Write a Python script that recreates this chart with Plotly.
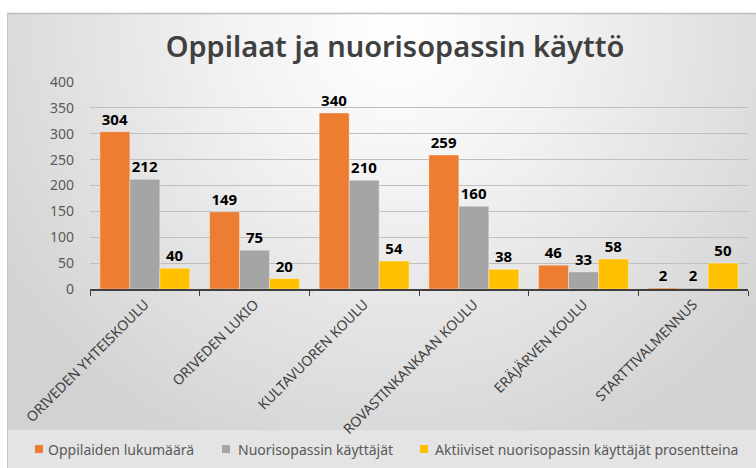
import base64
import plotly.graph_objects as go

categories = ["ORIVEDEN YHTEISKOULU", "ORIVEDEN LUKIO", "KULTAVUOREN KOULU",
              "ROVASTINKANKAAN KOULU", "ERÄJÄRVEN KOULU", "STARTTIVALMENNUS"]
oppilaat = [304, 149, 340, 259, 46, 2]
kayttajat = [212, 75, 210, 160, 33, 2]
aktiiviset = [40, 20, 54, 38, 58, 50]
series_names = ["Oppilaiden lukumäärä", "Nuorisopassin käyttäjät",
                "Aktiiviset nuorisopassin käyttäjät prosentteina"]
y_ticks = [0, 50, 100, 150, 200, 250, 300, 350, 400]

W, H = 756, 468
L, R, T, B = 90, 8, 82, 179
pw, ph = W - L - R, H - T - B

def px_x(p):
    return (p - L) / pw

def px_y(p):
    return (H - B - p) / ph

svg = f'''<svg xmlns="http://www.w3.org/2000/svg" width="{W}" height="{H}" viewBox="0 0 {W} {H}" preserveAspectRatio="none">
<defs>
<radialGradient id="g" gradientUnits="userSpaceOnUse" cx="395" cy="30" r="470">
<stop offset="0" stop-color="#ffffff"/>
<stop offset="0.35" stop-color="#f2f2f2"/>
<stop offset="1" stop-color="#d2d2d2"/>
</radialGradient>
</defs>
<rect x="0" y="0" width="{W}" height="{H}" fill="#ffffff"/>
<rect x="7" y="13" width="{W-7}" height="{H-13}" fill="url(#g)"/>
<rect x="7" y="430" width="{W-7}" height="{H-430}" fill="#e4e4e4"/>
<line x1="7" y1="13.5" x2="{W}" y2="13.5" stroke="#bdbdbd" stroke-width="1.5"/>
<line x1="7.5" y1="13" x2="7.5" y2="{H}" stroke="#c8c8c8" stroke-width="1"/>
</svg>'''
src = "data:image/svg+xml;base64," + base64.b64encode(svg.encode()).decode()

colors = ["#ED7D31", "#A5A5A5", "#FFC000"]
fig = go.Figure()
for name, vals, col in zip(series_names, [oppilaat, kayttajat, aktiiviset], colors):
    fig.add_trace(go.Bar(
        x=categories, y=vals, name=name,
        marker=dict(color=col, line=dict(color="rgba(255,255,255,0.35)", width=1)),
        text=[str(v) for v in vals], textposition="outside", cliponaxis=False,
        textfont=dict(family="Noto Sans", size=15, color="#000000", weight="bold"),
        showlegend=False,
    ))

# manual legend (positions in pixels)
legend_sq_x = [35, 222, 420]
legend_txt_x = [46, 236, 433]
legend_y = 449
shapes = []
annotations = []
for sx, tx, col, name in zip(legend_sq_x, legend_txt_x, colors, series_names):
    shapes.append(dict(type="rect", xref="paper", yref="paper",
                       x0=px_x(sx), x1=px_x(sx + 8), y0=px_y(legend_y + 4), y1=px_y(legend_y - 4),
                       fillcolor=col, line=dict(width=0)))
    annotations.append(dict(text=name, xref="paper", yref="paper", x=px_x(tx), y=px_y(legend_y),
                            xanchor="left", yanchor="middle", showarrow=False,
                            font=dict(family="Noto Sans", size=14, color="#595959")))

fig.update_layout(
    width=W, height=H,
    margin=dict(l=L, r=R, t=T, b=B, autoexpand=False),
    paper_bgcolor="white", plot_bgcolor="rgba(0,0,0,0)",
    barmode="group", bargap=0.18, bargroupgap=0.0,
    title=dict(text="Oppilaat ja nuorisopassin käyttö", x=395 / W, xanchor="center",
               y=1 - 47 / H, yanchor="middle",
               font=dict(family="Noto Sans", size=29, color="#404040", weight=600)),
    font=dict(family="Noto Sans", color="#595959"),
    showlegend=False,
    shapes=shapes,
    annotations=annotations,
    images=[dict(source=src, xref="paper", yref="paper",
                 x=-L / pw, y=1 + T / ph, sizex=W / pw, sizey=H / ph,
                 xanchor="left", yanchor="top", sizing="stretch", layer="below")],
)
fig.update_xaxes(
    tickangle=-45, tickfont=dict(family="Noto Sans", size=14, color="#404040"),
    showline=True, linecolor="#404040", linewidth=1.5,
    ticks="outside", tickson="boundaries", ticklen=5, tickcolor="#404040",
    showgrid=False, automargin=False,
)
fig.update_yaxes(
    range=[0, 400], tickvals=y_ticks, showgrid=True, gridcolor="#bfbfbf", gridwidth=1,
    zeroline=False, showline=False, automargin=False,
    tickfont=dict(family="Noto Sans", size=14, color="#595959"),
    ticklabelstandoff=15,
)
fig.write_html("out.html", config={"displayModeBar": False},
               post_script="document.body.style.margin='0';document.body.style.overflow='hidden';")
